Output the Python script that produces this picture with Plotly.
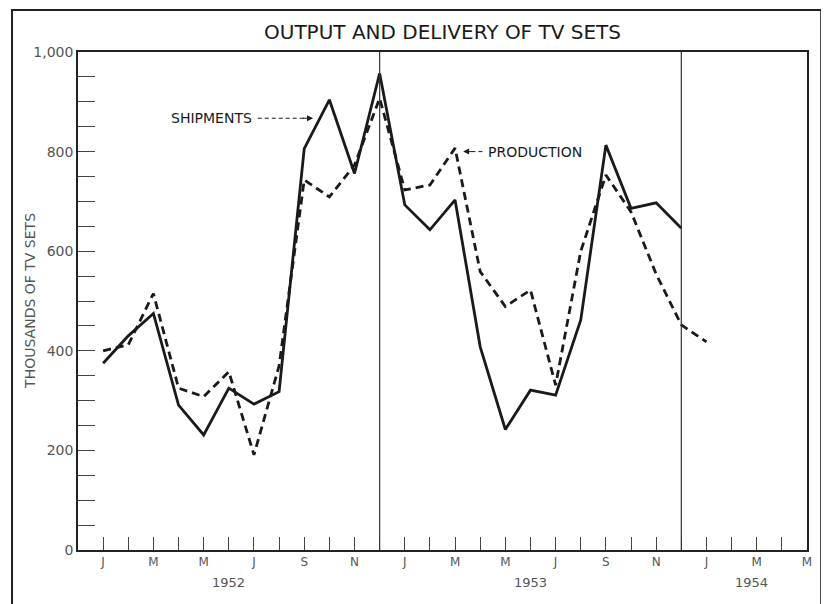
import plotly.graph_objects as go

# month index: 0 = Jan 1952
ship_months = list(range(0, 24))
shipments = [375, 430, 475, 291, 231, 325, 293, 318, 806, 904, 756, 957,
             693, 643, 703, 408, 242, 321, 311, 462, 813, 686, 697, 646]

prod_months = list(range(0, 25))
production = [400, 412, 515, 325, 308, 358, 191, 370, 743, 709, 773, 907,
              723, 733, 807, 559, 489, 522, 331, 600, 753, 679, 554, 452, 418]

month_letters = ["J", "", "M", "", "M", "", "J", "", "S", "", "N", "",
                 "J", "", "M", "", "M", "", "J", "", "S", "", "N", "",
                 "J", "", "M", "", "M"]
years = ["1952", "1953", "1954"]
year_pos = [5, 17, 25.8]
year_breaks = [11, 23]

y_ticks = [0, 200, 400, 600, 800, 1000]
y_labels = ["0", "200", "400", "600", "800", "1,000"]

INK = "#1a1a1a"
GREY = "#555555"
FONT = "DejaVu Sans"

fig = go.Figure()

fig.add_trace(go.Scatter(
    x=ship_months, y=shipments, mode="lines",
    line=dict(color=INK, width=2.8), name="Shipments"
))
fig.add_trace(go.Scatter(
    x=prod_months, y=production, mode="lines",
    line=dict(color=INK, width=2.8, dash="8px,5px"), name="Production"
))

for xb in year_breaks:
    fig.add_vline(x=xb, line=dict(color="#333333", width=1.2))

# year labels under the month letters
for yr, xp in zip(years, year_pos):
    fig.add_annotation(x=xp, y=-0.066, xref="x", yref="paper", text=yr,
                       showarrow=False, xanchor="center", yanchor="middle",
                       font=dict(family=FONT, size=13, color=GREY))

# y-axis title
fig.add_annotation(x=-0.066, y=0.5, xref="paper", yref="paper",
                   text="THOUSANDS OF TV SETS", textangle=-90, showarrow=False,
                   xanchor="center", yanchor="middle",
                   font=dict(family=FONT, size=14, color=GREY))

# callouts
fig.add_annotation(x=6.0, y=867, text="SHIPMENTS", showarrow=False, xanchor="right",
                   font=dict(family=FONT, size=14, color=INK))
fig.add_shape(type="line", x0=6.15, x1=8.0, y0=867, y1=867,
              line=dict(color=INK, width=1, dash="4px,3px"))
fig.add_annotation(x=8.35, y=867, ax=-12, ay=0, text="", showarrow=True,
                   arrowhead=2, arrowsize=1.2, arrowwidth=1, arrowcolor=INK)

fig.add_annotation(x=15.25, y=800, text="PRODUCTION", showarrow=False, xanchor="left",
                   font=dict(family=FONT, size=14, color=INK))
fig.add_shape(type="line", x0=14.65, x1=15.2, y0=800, y1=800,
              line=dict(color=INK, width=1, dash="4px,3px"))
fig.add_annotation(x=14.32, y=800, ax=10, ay=0, text="", showarrow=True,
                   arrowhead=2, arrowsize=1.2, arrowwidth=1, arrowcolor=INK)

# outer frame of the printed figure
fig.add_shape(type="rect", xref="paper", yref="paper",
              x0=-0.0905, x1=1.0195, y0=-0.14, y1=1.0843,
              line=dict(color="#222222", width=2))

# page body adds an 8px margin, so the figure is 8px smaller and shifted
fig.update_layout(
    width=821, height=596,
    margin=dict(l=70, r=22, t=44, b=54),
    paper_bgcolor="white", plot_bgcolor="white",
    showlegend=False,
    title=dict(text="OUTPUT AND DELIVERY OF TV SETS", x=0.5, xref="paper",
               y=1 - 24 / 596, yanchor="middle",
               font=dict(family=FONT, size=20, color=INK)),
    xaxis=dict(
        range=[-1, 28], tickvals=list(range(0, 29)), ticktext=month_letters,
        ticks="inside", ticklen=13, tickwidth=1.2, tickcolor="#444444",
        showline=True, linecolor="#222222", linewidth=1.6, mirror=True,
        showgrid=False, zeroline=False,
        tickfont=dict(family=FONT, size=12, color=GREY),
    ),
    yaxis=dict(
        range=[0, 1000], tickvals=y_ticks, ticktext=y_labels,
        ticks="inside", ticklen=17, tickwidth=1.2, tickcolor="#444444",
        minor=dict(dtick=50, ticks="inside", ticklen=17, tickwidth=1.2, tickcolor="#444444"),
        showline=True, linecolor="#222222", linewidth=1.6, mirror=True,
        showgrid=False, zeroline=False,
        tickfont=dict(family=FONT, size=14, color=GREY),
    ),
)

fig.write_html("out.html")
